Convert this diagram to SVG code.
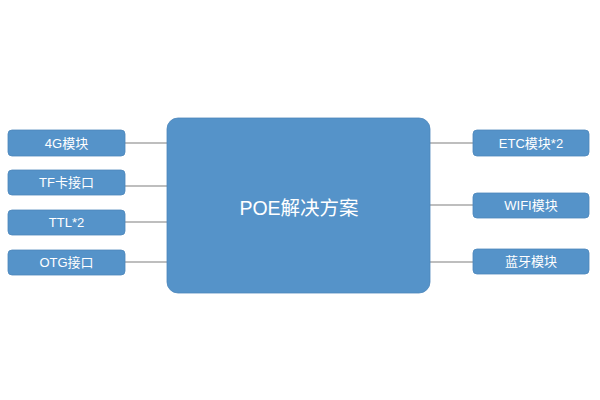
<svg xmlns="http://www.w3.org/2000/svg" width="600" height="400" viewBox="0 0 600 400">
<style>
.box{fill:#5593C9;stroke:#4C86BB;stroke-width:0.8}
.t{fill:#fff;font-family:"Liberation Sans","Noto Sans CJK SC",sans-serif;font-size:13px;text-anchor:middle;dominant-baseline:central}
.c{font-size:19.5px}
.ln{stroke:#A8A8A8;stroke-width:1.3;fill:none}
</style>
<rect width="600" height="400" fill="#fff"/>
<g id="connectors">
<line class="ln" x1="125" y1="143" x2="167" y2="143"/>
<line class="ln" x1="125" y1="186" x2="167" y2="186"/>
<line class="ln" x1="125" y1="222" x2="167" y2="222"/>
<line class="ln" x1="125" y1="262" x2="167" y2="262"/>
<line class="ln" x1="430" y1="143" x2="473" y2="143"/>
<line class="ln" x1="430" y1="205" x2="473" y2="205"/>
<line class="ln" x1="430" y1="262" x2="473" y2="262"/>
</g>
<g id="center"><rect class="box" x="167" y="118" width="263" height="175" rx="11"/><text class="t c" x="299" y="208">POE解决方案</text></g>
<g id="n4g"><rect class="box" x="8" y="130" width="117" height="26" rx="4"/><text class="t" x="66.5" y="143">4G模块</text></g>
<g id="ntf"><rect class="box" x="8" y="170" width="117" height="25" rx="4"/><text class="t" x="66.5" y="182.5">TF卡接口</text></g>
<g id="nttl"><rect class="box" x="8" y="210" width="117" height="25" rx="4"/><text class="t" x="66.5" y="222.5">TTL*2</text></g>
<g id="notg"><rect class="box" x="8" y="250" width="117" height="25" rx="4"/><text class="t" x="66.5" y="262.5">OTG接口</text></g>
<g id="netc"><rect class="box" x="473" y="130" width="116" height="26" rx="4"/><text class="t" x="531" y="143">ETC模块*2</text></g>
<g id="nwifi"><rect class="box" x="473" y="193" width="116" height="25" rx="4"/><text class="t" x="531" y="205.5">WIFI模块</text></g>
<g id="nbt"><rect class="box" x="473" y="249" width="116" height="25" rx="4"/><text class="t" x="531" y="261.5">蓝牙模块</text></g>
</svg>
